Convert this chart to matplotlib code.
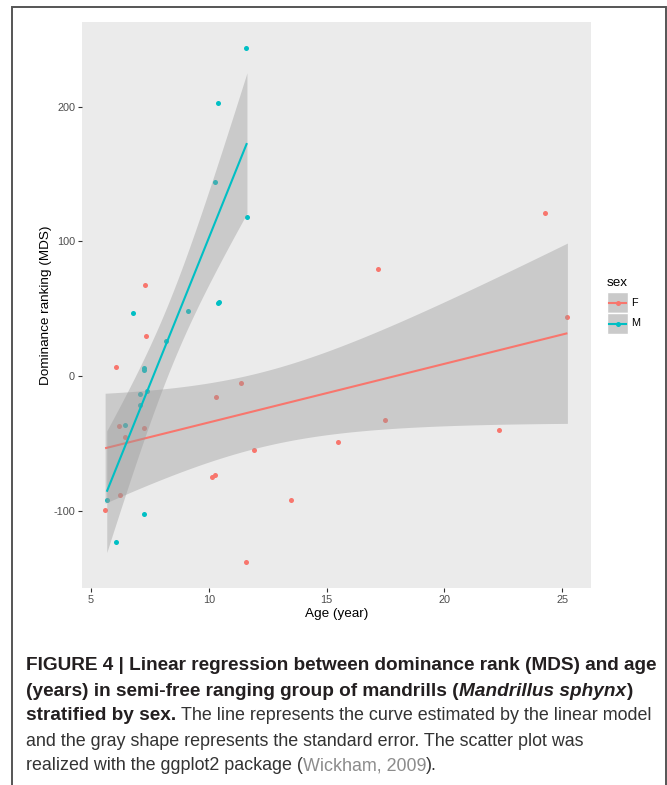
import numpy as np
import matplotlib
matplotlib.use("Agg")
import matplotlib.pyplot as plt
from matplotlib.patches import Rectangle
from matplotlib.lines import Line2D

# ---------------- data ----------------
f_age = [24.28, 17.20, 7.31, 25.22, 7.35, 6.07, 11.37, 10.32, 17.47, 6.18, 7.24,
         6.43, 22.31, 15.50, 11.94, 10.12, 10.28, 13.48, 6.23, 5.60, 11.56]
f_mds = [121.3, 79.5, 67.8, 43.9, 29.4, 6.9, -5.0, -15.3, -32.6, -37.0, -38.3,
         -45.0, -40.0, -48.7, -55.3, -75.3, -73.6, -92.4, -88.1, -99.3, -138.3]

m_age = [11.58, 10.39, 10.28, 11.62, 10.42, 10.39, 6.77, 9.12, 8.20, 7.23, 7.23,
         7.39, 7.10, 7.08, 6.43, 5.67, 7.24, 6.05]
m_mds = [243.7, 202.7, 143.9, 118.3, 54.6, 53.9, 46.4, 47.9, 25.9, 5.7, 4.4,
         -11.1, -13.6, -21.3, -36.5, -92.1, -102.7, -123.0]

sex_levels = ["F", "M"]
x_ticks = [5, 10, 15, 20, 25]
y_ticks = [-100, 0, 100, 200]

COL = {"F": "#F8766D", "M": "#00BFC4"}
T975 = {16: 2.1199, 19: 2.0930}

W, H = 667, 785
fig = plt.figure(figsize=(W / 100, H / 100), dpi=100)
fig.patch.set_facecolor("white")

AX_L, AX_R, AX_T, AX_B = 82, 590.5, 22, 588
ax = fig.add_axes([AX_L / W, 1 - AX_B / H, (AX_R - AX_L) / W, (AX_B - AX_T) / H])
ax.set_facecolor("#EBEBEB")
for s in ax.spines.values():
    s.set_visible(False)


def lm_band(x, y, n_pts=80):
    x = np.asarray(x, float)
    y = np.asarray(y, float)
    n = len(x)
    b, a = np.polyfit(x, y, 1)
    resid = y - (a + b * x)
    s = np.sqrt(np.sum(resid ** 2) / (n - 2))
    xbar = x.mean()
    sxx = np.sum((x - xbar) ** 2)
    xs = np.linspace(x.min(), x.max(), n_pts)
    fit = a + b * xs
    se = s * np.sqrt(1 / n + (xs - xbar) ** 2 / sxx)
    t = T975.get(n - 2, 2.1)
    return xs, fit, fit - t * se, fit + t * se


data = {"F": (f_age, f_mds), "M": (m_age, m_mds)}

# points first (ribbons drawn over them, as in ggplot)
for k in sex_levels:
    ax.scatter(data[k][0], data[k][1], s=13, color=COL[k], linewidths=0, zorder=2)

z = 3
for k in sex_levels:
    xs, fit, lo, hi = lm_band(*data[k])
    ax.fill_between(xs, lo, hi, color="#999999", alpha=0.4, linewidth=0, zorder=z)
    ax.plot(xs, fit, color=COL[k], lw=1.5, zorder=z + 1, solid_capstyle="butt")
    z += 2

allx = np.concatenate([f_age, m_age])
ally = np.concatenate([f_mds, m_mds])
xr = allx.max() - allx.min()
yr = ally.max() - ally.min()
ax.set_xlim(allx.min() - 0.05 * xr, allx.max() + 0.05 * xr)
ax.set_ylim(ally.min() - 0.05 * yr, ally.max() + 0.05 * yr)

ax.set_xticks(x_ticks)
ax.set_yticks(y_ticks)
ax.set_xticklabels([str(v) for v in x_ticks])
ax.set_yticklabels([str(v) for v in y_ticks])
ax.tick_params(axis="both", length=3, width=0.8, color="#333333",
               labelcolor="#4D4D4D", labelsize=7.8, pad=2,
               labelfontfamily="Liberation Sans")
ax.set_xlabel("Age (year)", fontsize=9.7, family=["Liberation Sans", "DejaVu Sans"],
              labelpad=2)
ax.set_ylabel("Dominance ranking (MDS)", fontsize=9.7,
              family=["Liberation Sans", "DejaVu Sans"])
ax.yaxis.set_label_coords((52 - AX_L) / (AX_R - AX_L), 0.5)

# ---------------- legend ----------------
def fx(x):
    return x / W


def fy(y):
    return 1 - y / H


fig.text(fx(607), fy(286), "sex", fontsize=9.7, family=["Liberation Sans", "DejaVu Sans"],
         ha="left", va="baseline")
key_x0, key_x1 = 607, 628
key_tops = [292, 313]
key_h = 21
for k, top in zip(sex_levels, key_tops):
    fig.patches.append(Rectangle((fx(key_x0), fy(top + key_h)), (key_x1 - key_x0) / W,
                                 key_h / H, transform=fig.transFigure,
                                 facecolor="#CACACA", edgecolor="white", lw=1.0))
    yc = top + key_h / 2
    fig.lines.append(Line2D([fx(key_x0 + 2), fx(key_x1 - 2)], [fy(yc), fy(yc)],
                            transform=fig.transFigure, color=COL[k], lw=1.5))
    fig.lines.append(Line2D([fx((key_x0 + key_x1) / 2)], [fy(yc)],
                            transform=fig.transFigure, color=COL[k], marker="o",
                            markersize=3.6, markeredgewidth=0, linestyle="none"))
    fig.text(fx(631), fy(yc), k, fontsize=7.8, family=["Liberation Sans", "DejaVu Sans"],
             ha="left", va="center")

# ---------------- outer frame ----------------
fig.patches.append(Rectangle((fx(12), fy(800)), (665.5 - 12) / W, (800 - 7) / H,
                             transform=fig.transFigure, facecolor="none",
                             edgecolor="#555555", lw=1.4))

# ---------------- caption ----------------
CAP_FAMILY = ["Liberation Sans", "DejaVu Sans"]
renderer = fig.canvas.get_renderer()
BLACK = "#231F20"
REG = "#333333"
GRAY = "#8C8C8C"


def text_width(s, size, weight="normal", style="normal"):
    t = fig.text(0, 0, s, fontsize=size, fontweight=weight, fontstyle=style,
                 family=CAP_FAMILY)
    w = t.get_window_extent(renderer).width
    t.remove()
    return w


line1 = "FIGURE 4 | Linear regression between dominance rank (MDS) and age"
line4 = "and the gray shape represents the standard error. The scatter plot was"
base = 10.0
bold_size = base * (659 - 26) / text_width(line1, base, "bold")
reg_size = base * (587 - 26) / text_width(line4, base, "normal")
SIZES = {"bold": bold_size, "normal": reg_size}

caption = [
    [(line1, "bold", "normal", BLACK)],
    [("(years) in semi-free ranging group of mandrills (", "bold", "normal", BLACK),
     ("Mandrillus sphynx", "bold", "italic", BLACK),
     (")", "bold", "normal", BLACK)],
    [("stratified by sex.", "bold", "normal", BLACK),
     (" The line represents the curve estimated by the linear model", "normal", "normal", REG)],
    [(line4, "normal", "normal", REG)],
    [("realized with the ggplot2 package (", "normal", "normal", REG),
     ("Wickham, 2009", "normal", "normal", GRAY),
     (").", "normal", "normal", REG)],
]
baselines = [670.5, 695.5, 720.5, 745.5, 770.5]


def space_w(size, weight, style):
    return text_width("a a", size, weight, style) - text_width("aa", size, weight, style)


for runs, yb in zip(caption, baselines):
    x = 26.0
    for s, weight, style, color in runs:
        size = SIZES[weight]
        lead = len(s) - len(s.lstrip(" "))
        trail = len(s) - len(s.rstrip(" "))
        sw = space_w(size, weight, style)
        x += lead * sw
        core = s.strip(" ")
        t = fig.text(fx(x), fy(yb), core, fontsize=size, fontweight=weight,
                     fontstyle=style, color=color, family=CAP_FAMILY,
                     ha="left", va="baseline")
        x += t.get_window_extent(renderer).width + trail * sw

fig.savefig("out.png", dpi=100)
